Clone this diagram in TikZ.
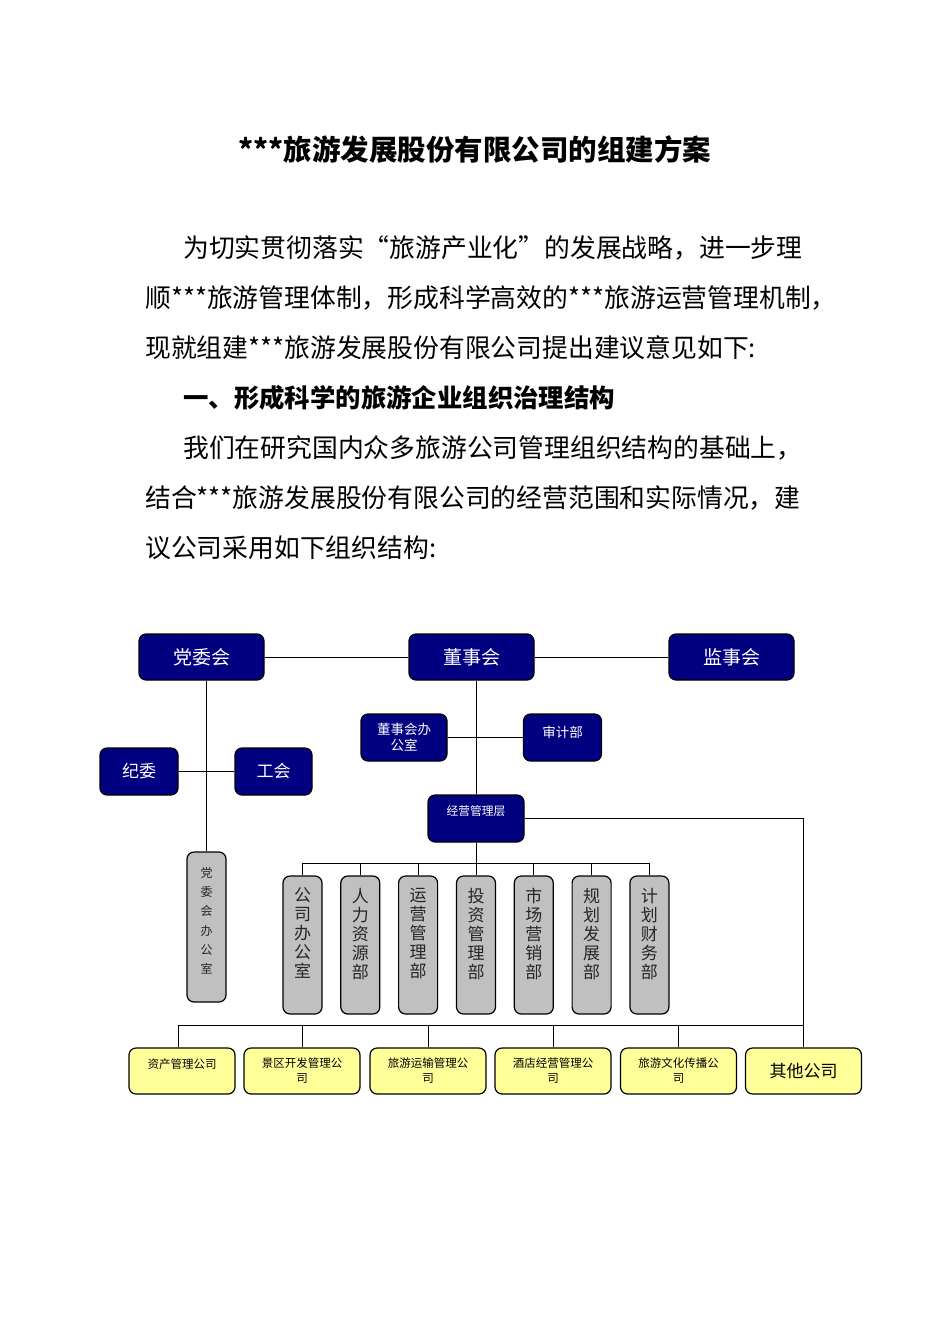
\documentclass[tikz,border=0pt]{standalone}
\usepackage{fontspec}
\setmainfont{Noto Sans CJK SC}
\definecolor{boxnavy}{RGB}{0,0,128}
\definecolor{boxgray}{RGB}{192,192,192}
\definecolor{boxyellow}{RGB}{255,255,153}

\begin{document}
\begin{tikzpicture}[
		x=1pt,y=-1pt,
		every node/.style={inner sep=0pt},
		bodytext/.style={anchor=west,font=\fontsize{25.8}{26}\selectfont},
		navybox/.style={draw,line width=1.2pt,rounded corners=7pt,fill=boxnavy,text=white,align=center},
		graybox/.style={draw,line width=1.2pt,rounded corners=7pt,fill=boxgray,text=black!85,align=center,minimum width=39pt},
		yellowbox/.style={draw,line width=1.2pt,rounded corners=7pt,fill=boxyellow,align=center,minimum width=116pt,minimum height=46pt,font=\fontsize{11.5}{15}\selectfont},
		link/.style={line width=0.9pt}
		]
		\fill[white] (0,0) rectangle (950,1344);
		\useasboundingbox (0,0) rectangle (950,1344);
		
		\node[font=\fontsize{28.5}{28.5}\selectfont\bfseries] (title) at (475,150) {***旅游发展股份有限公司的组建方案};
		\node[bodytext] (p1) at (183,248) {为切实贯彻落实“旅游产业化”的发展战略，进一步理};
		\node[bodytext] (p2) at (145,298) {顺***旅游管理体制，形成科学高效的***旅游运营管理机制，};
		\node[bodytext] (p3) at (145,348) {现就组建***旅游发展股份有限公司提出建议意见如下:};
		\node[bodytext,font=\fontsize{25.4}{26}\selectfont\bfseries] (h1) at (183,398) {一、形成科学的旅游企业组织治理结构};
		\node[bodytext] (p4) at (183,448) {我们在研究国内众多旅游公司管理组织结构的基础上，};
		\node[bodytext] (p5) at (145,498) {结合***旅游发展股份有限公司的经营范围和实际情况，建};
		\node[bodytext] (p6) at (145,548) {议公司采用如下组织结构:};
		
		% top level
		\node[navybox,minimum width=125pt,minimum height=46pt,font=\fontsize{19}{19}\selectfont] (dwh) at (201.5,657) {党委会};
		\node[navybox,minimum width=125pt,minimum height=46pt,font=\fontsize{19}{19}\selectfont] (dsh) at (471.5,657) {董事会};
		\node[navybox,minimum width=125pt,minimum height=46pt,font=\fontsize{19}{19}\selectfont] (jsh) at (731.5,657) {监事会};
		
		\node[navybox,minimum width=78pt,minimum height=47pt,font=\fontsize{17}{17}\selectfont] (jw) at (139,771.5) {纪委};
		\node[navybox,minimum width=77pt,minimum height=47pt,font=\fontsize{17}{17}\selectfont] (gh) at (273.5,771.5) {工会};
		\node[graybox,minimum height=150pt,font=\fontsize{12}{19.3}\selectfont] (dwbgs) at (206.5,927) {党\\委\\会\\办\\公\\室\\[-6pt]{}};
		
		\node[navybox,minimum width=86pt,minimum height=47pt,font=\fontsize{13.5}{16}\selectfont] (dshbgs) at (404,737.5) {董事会办\\公室};
		\node[navybox,minimum width=78pt,minimum height=47pt,font=\fontsize{13.5}{16}\selectfont] (sjb) at (562.5,737.5) {审计部\\[-4pt]{}};
		\node[navybox,minimum width=96pt,minimum height=47pt,font=\fontsize{11.8}{16}\selectfont] (jyglc) at (476,818.5) {经营管理层\\{}};
		
		% departments
		\node[graybox,minimum height=138pt,font=\fontsize{17}{19}\selectfont] (bm1) at (302.5,945) {公\\司\\办\\公\\室\\[5pt]{}};
		\node[graybox,minimum height=138pt,font=\fontsize{17}{19}\selectfont] (bm2) at (360.3,945) {人\\力\\资\\源\\部\\[5pt]{}};
		\node[graybox,minimum height=138pt,font=\fontsize{17}{19}\selectfont] (bm3) at (418.1,945) {运\\营\\管\\理\\部\\[5pt]{}};
		\node[graybox,minimum height=138pt,font=\fontsize{17}{19}\selectfont] (bm4) at (476,945) {投\\资\\管\\理\\部\\[5pt]{}};
		\node[graybox,minimum height=138pt,font=\fontsize{17}{19}\selectfont] (bm5) at (533.8,945) {市\\场\\营\\销\\部\\[5pt]{}};
		\node[graybox,minimum height=138pt,font=\fontsize{17}{19}\selectfont] (bm6) at (591.6,945) {规\\划\\发\\展\\部\\[5pt]{}};
		\node[graybox,minimum height=138pt,font=\fontsize{17}{19}\selectfont] (bm7) at (649.4,945) {计\\划\\财\\务\\部\\[5pt]{}};
		
		% companies
		\node[yellowbox,minimum width=106pt] (gs1) at (182,1071) {资产管理公司\\{}};
		\node[yellowbox] (gs2) at (302,1071) {景区开发管理公\\司};
		\node[yellowbox] (gs3) at (428,1071) {旅游运输管理公\\司};
		\node[yellowbox] (gs4) at (553,1071) {酒店经营管理公\\司};
		\node[yellowbox] (gs5) at (678.5,1071) {旅游文化传播公\\司};
		\node[yellowbox,font=\fontsize{17}{17}\selectfont] (gs6) at (803.5,1071) {其他公司};
		
		% connections
		\draw[link] (dwh) -- (dsh);
		\draw[link] (dsh) -- (jsh);
		\draw[link] (dwbgs.north) -- (dwbgs.north |- dwh.south);
		\draw[link] (jw) -- (gh);
		\draw[link] (jyglc.north) -- (jyglc.north |- dsh.south);
		\draw[link] (dshbgs) -- (sjb);
		\draw[link] (jyglc.south) -- (bm4.north);
		\draw[link] (bm1.north) -- ++(0,-12) -| (bm7.north);
		\draw[link] (bm2.north) -- ++(0,-12);
		\draw[link] (bm3.north) -- ++(0,-12);
		\draw[link] (bm5.north) -- ++(0,-12);
		\draw[link] (bm6.north) -- ++(0,-12);
		\draw[link] (jyglc.east) -| (gs6.north);
		\draw[link] ([xshift=-4pt]gs1.north) -- ++(0,-22) -| (gs6.north);
		\draw[link] (gs2.north) -- ++(0,-22);
		\draw[link] (gs3.north) -- ++(0,-22);
		\draw[link] (gs4.north) -- ++(0,-22);
		\draw[link] (gs5.north) -- ++(0,-22);
\end{tikzpicture}
\end{document}
